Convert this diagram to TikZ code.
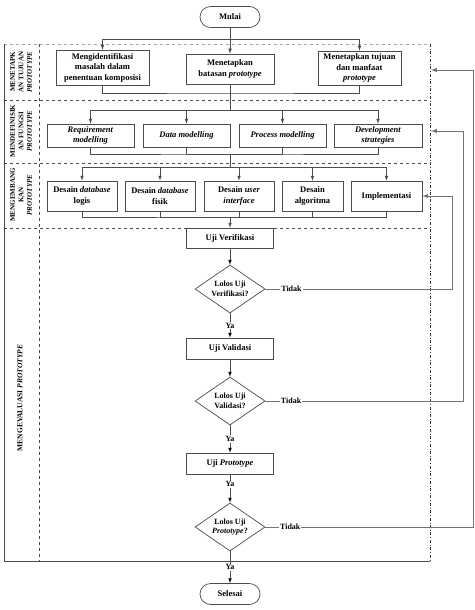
\documentclass[tikz,border=0pt]{standalone}
\usepackage{fontspec}
\setmainfont{Liberation Serif}
\usepackage{tikz}
\usetikzlibrary{positioning}
\usetikzlibrary{shapes.geometric}
\usetikzlibrary{shapes.misc}
\tikzstyle{bx}=[draw=black!70, rectangle, fill=white, align=center, inner sep=1pt, line width=0.7pt, font=\fontsize{8.5}{10.5}\selectfont\bfseries]
\tikzstyle{term}=[bx, shape=rounded rectangle, minimum width=62pt, minimum height=21pt]
\tikzstyle{dec}=[bx, diamond, aspect=1.45, inner sep=-2pt, minimum width=70pt, minimum height=48pt, font=\fontsize{8}{9.5}\selectfont\bfseries]
\tikzstyle{lane}=[rotate=90, align=center, inner sep=0pt, font=\fontsize{7}{8.5}\selectfont\bfseries]
\tikzstyle{lbl}=[fill=white, inner sep=1pt, font=\fontsize{8}{9}\selectfont\bfseries]
\tikzstyle{ln}=[draw=black!70, line width=0.7pt]
\tikzstyle{back}=[draw=black!55, line width=1pt]

\begin{document}
\begin{tikzpicture}[x=1pt, y=-1pt, >=latex]
    \useasboundingbox (0,0) rectangle (474,610);

    % lanes
    \draw [black!35, dashed] (4,44) -- (430,44);
    \draw [black!70] (4,44) -- (4,561) -- (430,561);
    \draw [black!80, dash dot] (430,44) -- (430,561);
    \draw [black!70, dashed] (39,44) -- (39,561);
    \draw [black!70, dashed, line width=0.8pt] (4,100) -- (430,100)
                                               (4,163) -- (430,163)
                                               (4,228) -- (430,228);
    \node [lane] (L1) at (21,72)  {MENETAPK\\AN TUJUAN\\\textit{PROTOTYPE}};
    \node [lane] (L2) at (21,131) {MENDEFINISIK\\AN FUNGSI\\\textit{PROTOTYPE}};
    \node [lane] (L3) at (21,195) {MENGEMBANG\\KAN\\\textit{PROTOTYPE}};
    \node [lane, font=\fontsize{7.5}{9}\selectfont\bfseries] (L4) at (20,398) {MENGEVALUASI \textit{PROTOTYPE}};

    \node [term] (M)   at (230,17)    {Mulai};
    \node [bx, minimum width=93pt, minimum height=35pt] (MI) at (102.5,67.5) {Mengidentifikasi\\masalah dalam\\penentuan komposisi};
    \node [bx, minimum width=88pt, minimum height=30pt] (MB) at (230,69)     {Menetapkan\\batasan \textit{prototype}};
    \node [bx, minimum width=83pt, minimum height=34pt] (MT) at (359.5,68)   {Menetapkan tujuan\\dan manfaat\\\textit{prototype}};

    \node [bx, minimum width=87pt, minimum height=23pt] (RM) at (90.5,135.5)  {\textit{Requirement}\\\textit{modelling}};
    \node [bx, minimum width=87pt, minimum height=23pt] (DM) at (186.5,135.5) {\textit{Data modelling}};
    \node [bx, minimum width=87pt, minimum height=23pt] (PM) at (282.5,135.5) {\textit{Process modelling}};
    \node [bx, minimum width=88pt, minimum height=23pt] (DS) at (378,135.5)   {\textit{Development}\\\textit{strategies}};

    \node [bx, minimum width=70pt, minimum height=30pt] (DL) at (82,196)    {Desain \textit{database}\\logis};
    \node [bx, minimum width=70pt, minimum height=30pt] (DF) at (160,196)   {Desain \textit{database}\\fisik};
    \node [bx, minimum width=70pt, minimum height=30pt] (UI) at (239,196)   {Desain \textit{user}\\\textit{interface}};
    \node [bx, minimum width=61pt, minimum height=30pt] (DA) at (312.5,196) {Desain\\algoritma};
    \node [bx, minimum width=71pt, minimum height=30pt] (IM) at (386.5,196) {Implementasi};

    \node [bx, minimum width=87pt, minimum height=20pt] (UV) at (230,238)   {Uji Verifikasi};
    \node [dec] (D1) at (230,289) {Lolos Uji\\Verifikasi?};
    \node [bx, minimum width=87pt, minimum height=21pt] (UA) at (230,348.5) {Uji Validasi};
    \node [dec] (D2) at (230,401) {Lolos Uji\\Validasi?};
    \node [bx, minimum width=87pt, minimum height=21pt] (UP) at (230,463.5) {Uji \textit{Prototype}};
    \node [dec] (D3) at (230,527) {Lolos Uji\\\textit{Prototype}?};
    \node [term] (S)   at (230,594)   {Selesai};

    % junctions
    \coordinate (j1) at (230,39);
    \coordinate (j2) at (230,93);
    \coordinate (j3) at (230,110);
    \coordinate (j4) at (230,154);
    \coordinate (j5) at (230,167);
    \coordinate (j6) at (230,217);
    \coordinate (r1) at (452,289);
    \coordinate (r2) at (463,401);
    \coordinate (r3) at (473,527);
    \coordinate (f2) at (431,131);
    \coordinate (f1) at (431,70);

    \draw [ln] (M) -- (j1);
    \draw [ln, ->] (j1) -| (MI);
    \draw [ln, ->] (j1) -| (MT);
    \draw [ln, ->] (j1) -- (MB);
    \draw [ln] (MI) |- (j2) -| (MT);
    \draw [ln] (MB) -- (j3);
    \draw [ln, ->] (j3) -| (RM);
    \draw [ln, ->] (j3) -| (DM);
    \draw [ln, ->] (j3) -| (PM);
    \draw [ln, ->] (j3) -| (DS);
    \draw [ln] (RM) |- (j4) -| (DS);
    \draw [ln] (DM) |- (j4);
    \draw [ln] (PM) |- (j4);
    \draw [ln] (j4) -- (j5);
    \draw [ln, ->] (j5) -| (DL);
    \draw [ln, ->] (j5) -| (DF);
    \draw [ln, ->] (j5) -| (UI);
    \draw [ln, ->] (j5) -| (DA);
    \draw [ln, ->] (j5) -| (IM);
    \draw [ln] (DL) |- (j6) -| (IM);
    \draw [ln] (DF) |- (j6);
    \draw [ln] (UI) |- (j6);
    \draw [ln] (DA) |- (j6);
    \draw [ln, ->] (j6) -- (UV);

    \path [ln, ->] (UV) edge (D1)
                   (D1) edge node [lbl] {Ya} (UA)
                   (UA) edge (D2)
                   (D2) edge node [lbl] {Ya} (UP)
                   (UP) edge node [lbl, pos=0.35] {Ya} (D3)
                   (D3) edge node [lbl] {Ya} (S);

    % back loops
    \draw [back, ->] (D1) -- node [lbl, pos=0.14] {Tidak} (r1) |- (IM);
    \draw [back, ->] (D2) -- node [lbl, pos=0.13] {Tidak} (r2) |- (f2);
    \draw [back, ->] (D3) -- node [lbl, pos=0.12] {Tidak} (r3) |- (f1);
\end{tikzpicture}
\end{document}
